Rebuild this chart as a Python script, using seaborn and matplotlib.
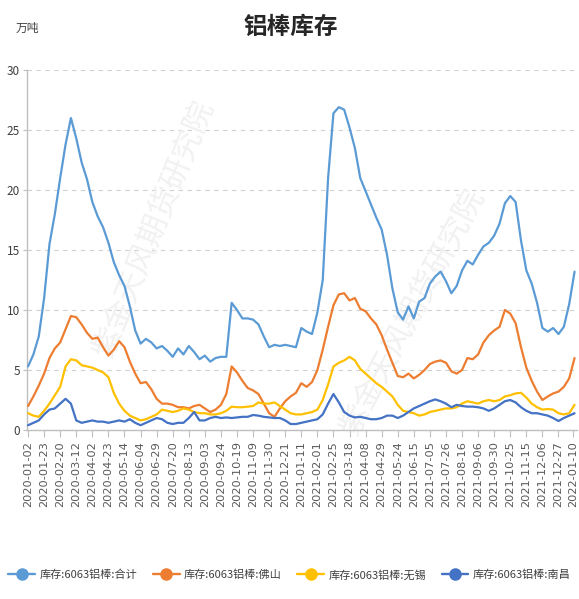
import numpy as np
import pandas as pd
import matplotlib
matplotlib.use("Agg")
import matplotlib.pyplot as plt
import seaborn as sns
from matplotlib.lines import Line2D

# ---------------- data (weekly readings, 万吨) ----------------
tick_labels = ["2020-01-02", "2020-01-23", "2020-02-20", "2020-03-12", "2020-04-02",
               "2020-04-23", "2020-05-14", "2020-06-04", "2020-06-29", "2020-07-20",
               "2020-08-13", "2020-09-03", "2020-09-24", "2020-10-19", "2020-11-09",
               "2020-11-30", "2020-12-21", "2021-01-11", "2021-02-01", "2021-02-25",
               "2021-03-18", "2021-04-08", "2021-04-29", "2021-05-24", "2021-06-15",
               "2021-07-05", "2021-07-26", "2021-08-16", "2021-09-06", "2021-09-30",
               "2021-10-25", "2021-11-15", "2021-12-06", "2021-12-27", "2022-01-10"]

total = [5.3, 6.3, 7.8, 11.0, 15.5, 18.0, 21.0, 23.8, 26.0, 24.3,
         22.3, 20.9, 19.0, 17.8, 16.9, 15.6, 14.0, 12.9, 12.0, 10.3,
         8.3, 7.2, 7.6, 7.3, 6.8, 7.0, 6.6, 6.1, 6.8, 6.3,
         7.0, 6.5, 5.9, 6.2, 5.7, 6.0, 6.1, 6.1, 10.6, 10.0,
         9.3, 9.3, 9.2, 8.8, 7.8, 6.9, 7.1, 7.0, 7.1, 7.0,
         6.9, 8.5, 8.2, 8.0, 9.8, 12.5, 21.0, 26.4, 26.9, 26.7,
         25.2, 23.5, 21.0, 19.9, 18.8, 17.7, 16.7, 14.6, 11.8, 9.8,
         9.2, 10.3, 9.3, 10.7, 11.0, 12.2, 12.8, 13.2, 12.4, 11.4,
         12.0, 13.3, 14.1, 13.8, 14.6, 15.3, 15.6, 16.2, 17.2, 18.9,
         19.5, 19.0, 15.8, 13.3, 12.2, 10.6, 8.5, 8.2, 8.5, 8.0,
         8.6, 10.5, 13.2]

foshan = [2.0, 2.8, 3.7, 4.7, 6.0, 6.8, 7.3, 8.4, 9.5, 9.4,
          8.8, 8.1, 7.6, 7.7, 6.9, 6.2, 6.7, 7.4, 6.9, 5.7,
          4.7, 3.9, 4.0, 3.4, 2.6, 2.2, 2.2, 2.1, 1.9, 1.9,
          1.8, 2.0, 2.1, 1.8, 1.5, 1.7, 2.1, 3.0, 5.3, 4.8,
          4.1, 3.5, 3.3, 3.0, 2.2, 1.4, 1.1, 1.8, 2.4, 2.8,
          3.1, 3.9, 3.6, 4.0, 5.0, 6.7, 8.6, 10.4, 11.3, 11.4,
          10.8, 11.0, 10.1, 9.9, 9.3, 8.8, 7.9, 6.7, 5.6, 4.5,
          4.4, 4.7, 4.3, 4.6, 5.0, 5.5, 5.7, 5.8, 5.6, 4.9,
          4.7, 5.0, 6.0, 5.9, 6.3, 7.3, 7.9, 8.3, 8.6, 10.0,
          9.7, 8.9, 6.9, 5.2, 4.1, 3.2, 2.5, 2.8, 3.05, 3.2,
          3.6, 4.3, 6.0]

wuxi = [1.4, 1.2, 1.1, 1.6, 2.2, 2.9, 3.6, 5.3, 5.9, 5.8,
        5.4, 5.3, 5.2, 5.0, 4.8, 4.4, 3.1, 2.2, 1.6, 1.2,
        1.0, 0.8, 0.9, 1.1, 1.3, 1.7, 1.6, 1.5, 1.6, 1.8,
        1.7, 1.5, 1.4, 1.4, 1.3, 1.3, 1.4, 1.6, 1.95, 1.9,
        1.9, 1.95, 2.0, 2.3, 2.2, 2.2, 2.3, 2.0, 1.7, 1.4,
        1.3, 1.3, 1.4, 1.5, 1.7, 2.5, 3.8, 5.3, 5.6, 5.8,
        6.1, 5.8, 5.1, 4.7, 4.3, 3.9, 3.6, 3.2, 2.8, 2.1,
        1.6, 1.5, 1.4, 1.2, 1.3, 1.5, 1.6, 1.7, 1.8, 1.8,
        1.9, 2.2, 2.4, 2.3, 2.2, 2.4, 2.5, 2.4, 2.5, 2.8,
        2.9, 3.05, 3.1, 2.7, 2.2, 1.9, 1.7, 1.75, 1.7, 1.4,
        1.3, 1.4, 2.1]

nanchang = [0.4, 0.6, 0.8, 1.3, 1.7, 1.8, 2.2, 2.6, 2.2, 0.8,
            0.6, 0.7, 0.8, 0.7, 0.7, 0.6, 0.7, 0.8, 0.7, 0.9,
            0.6, 0.4, 0.6, 0.8, 1.0, 0.9, 0.6, 0.5, 0.6, 0.6,
            1.0, 1.5, 0.8, 0.8, 1.0, 1.1, 1.0, 1.05, 1.0, 1.05,
            1.1, 1.1, 1.25, 1.2, 1.1, 1.05, 1.0, 1.0, 0.8, 0.5,
            0.5, 0.6, 0.7, 0.8, 0.9, 1.3, 2.2, 3.0, 2.3, 1.5,
            1.2, 1.05, 1.1, 1.0, 0.9, 0.9, 1.0, 1.2, 1.2, 1.0,
            1.2, 1.5, 1.8, 2.0, 2.2, 2.4, 2.55, 2.4, 2.2, 1.9,
            2.1, 2.0, 1.95, 1.95, 1.9, 1.8, 1.6, 1.8, 2.1, 2.4,
            2.5, 2.3, 1.9, 1.6, 1.4, 1.4, 1.3, 1.2, 1.0, 0.75,
            1.0, 1.2, 1.4]

series_names = ["库存:6063铝棒:合计", "库存:6063铝棒:佛山",
                "库存:6063铝棒:无锡", "库存:6063铝棒:南昌"]
colors = ["#5B9BD5", "#ED7D31", "#FFC000", "#4472C4"]

# ---------------- style ----------------
sns.set_theme(style="white")
plt.rcParams['font.family'] = ['Noto Sans CJK SC', 'DejaVu Sans']
plt.rcParams['axes.unicode_minus'] = False

# x in report-index units (two reports per week, one sample per week)
step = 2
frames = []
for name, vals in zip(series_names, [total, foshan, wuxi, nanchang]):
    frames.append(pd.DataFrame({"x": np.arange(len(vals)) * step,
                                "value": vals, "series": name}))
df = pd.concat(frames, ignore_index=True)

fig = plt.figure(figsize=(5.79, 5.99), dpi=100)
ax = fig.add_axes([0.0466, 0.2821, 0.9499, 0.601])

sns.lineplot(data=df, x="x", y="value", hue="series",
             palette=dict(zip(series_names, colors)),
             hue_order=series_names, linewidth=1.6, ax=ax, legend=False,
             zorder=3)

# axes limits / ticks
ax.set_xlim(-0.4, 204.9)
ax.set_ylim(0, 30)
ax.set_yticks(np.arange(0, 31, 5))
ax.tick_params(axis='y', labelsize=8.5, labelcolor='#404040', length=3,
               color='#bfbfbf', width=0.8, pad=2, left=True)
tick_pos = list(np.arange(len(tick_labels) - 1) * 6) + [203.6]
ax.set_xticks(tick_pos)
ax.set_xticklabels(tick_labels, rotation=90, fontsize=8.2, color='#595959',
                   family='DejaVu Sans')
ax.tick_params(axis='x', length=5, color='#bfbfbf', width=0.8, pad=3,
               bottom=True)
ax.set_xlabel("")
ax.set_ylabel("")

# grid and spines
ax.set_axisbelow(True)
ax.yaxis.grid(True, linestyle=(0, (4, 4)), color='#d0d0d0', linewidth=0.8)
ax.xaxis.grid(False)
for side in ["top", "right"]:
    ax.spines[side].set_visible(False)
for side in ["left", "bottom"]:
    ax.spines[side].set_color('#bfbfbf')
    ax.spines[side].set_linewidth(1.0)

# watermarks
for (wx, wy, ang) in [(0.23, 0.56, 68), (0.70, 0.33, 62)]:
    ax.text(wx, wy, "紫金天风期货研究院", transform=ax.transAxes,
            rotation=ang, fontsize=22, color='#f1f1f1', ha='center',
            va='center', zorder=1)

# title and unit
fig.text(0.503, 1 - 27 / 599, "铝棒库存", ha='center', va='center',
         fontsize=17, fontweight='bold', color='#262626')
fig.text(27 / 579, 1 - 28 / 599, "万吨", ha='center', va='center',
         fontsize=8.5, color='#404040')

# legend
handles = [Line2D([0], [0], color=c, lw=1.7, marker='o', markersize=8,
                  markeredgecolor=c) for c in colors]
fig.legend(handles, series_names, loc='center', ncol=4,
           bbox_to_anchor=(0.5, 1 - 575 / 599), frameon=False, fontsize=8,
           handlelength=2.4, handletextpad=0.4, columnspacing=1.4,
           labelcolor='#404040')

fig.savefig("out.png", dpi=100)
